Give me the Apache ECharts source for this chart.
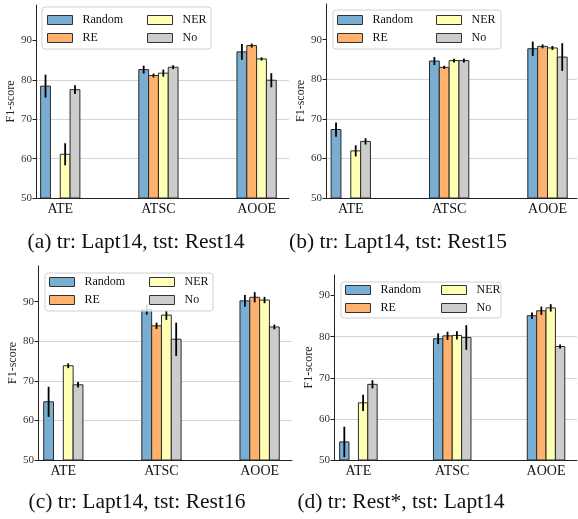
<!DOCTYPE html>
<html>
<head>
<meta charset="utf-8">
<script src="https://cdn.jsdelivr.net/npm/echarts@6/dist/echarts.min.js"></script>
<style>
  html, body { margin: 0; padding: 0; background: #fff; }
  #chart { width: 578px; height: 519px; }
</style>
</head>
<body>
<div id="chart"></div>
<script>
// tasks on the x axis, methods = bar series
const categories = ['ATE', 'ATSC', 'AOOE']
const methods = ['Random', 'RE', 'NER', 'No']
const colors = ['#79add2', '#ffb26e', '#ffffb3', '#cccccc']
const yTicks = [50, 60, 70, 80, 90]
const captions = [
  '(a) tr: Lapt14, tst: Rest14',
  '(b) tr: Lapt14, tst: Rest15',
  '(c) tr: Lapt14, tst: Rest16',
  '(d) tr: Rest*, tst: Lapt14'
]

// rows: Random, RE, NER, No ; columns: ATE, ATSC, AOOE
const meanA = [[78.4, 82.6, 87.1], [null, 81.1, 88.7], [61.1, 81.7, 85.3], [77.5, 83.2, 79.9]]
const errA  = [[2.9, 1.0, 2.0], [null, 0.5, 0.5], [2.8, 0.9, 0.4], [1.1, 0.5, 1.8]]
const meanB = [[67.3, 84.6, 87.7], [null, 83.0, 88.3], [61.9, 84.7, 87.9], [64.3, 84.7, 85.6]]
const errB  = [[1.8, 1.0, 1.8], [null, 0.4, 0.5], [1.4, 0.5, 0.5], [0.8, 0.5, 3.5]]
const meanC = [[64.7, 88.0, 90.2], [null, 83.9, 91.1], [73.8, 86.6, 90.4], [69.0, 80.5, 83.6]]
const errC  = [[3.8, 1.3, 1.5], [null, 0.8, 1.3], [0.6, 1.2, 0.8], [0.7, 4.2, 0.6]]
const meanD = [[54.4, 79.5, 85.1], [null, 80.2, 86.3], [63.9, 80.3, 87.0], [68.4, 79.8, 77.6]]
const errD  = [[3.7, 1.3, 0.8], [null, 1.0, 1.0], [2.0, 1.0, 0.9], [1.0, 3.0, 0.5]]

const FONT = 'Liberation Serif, DejaVu Serif, serif'
const BAR_W = 0.1

// layout of the four panels
const panels = [
  { mean: meanA, err: errA, grid: { left: 36, top: 5, width: 253, height: 193 }, xMin: -0.247, xMax: 2.33, yMax: 99,
    legend: { box: [42, 7, 169, 42], col1: 47, col2: 147, top: 13 }, caption: [136, 242] },
  { mean: meanB, err: errB, grid: { left: 326, top: 4, width: 251, height: 194 }, xMin: -0.252, xMax: 2.30, yMax: 99,
    legend: { box: [333, 10, 168, 39], col1: 337, col2: 436, top: 13 }, caption: [398, 242] },
  { mean: meanC, err: errC, grid: { left: 38, top: 266, width: 254, height: 194 }, xMin: -0.258, xMax: 2.33, yMax: 99,
    legend: { box: [45, 273, 168, 38], col1: 49, col2: 149, top: 275 }, caption: [137, 502] },
  { mean: meanD, err: errD, grid: { left: 334, top: 275, width: 243, height: 185 }, xMin: -0.26, xMax: 2.33, yMax: 95,
    legend: { box: [341, 282, 160, 36], col1: 345, col2: 441, top: 283 }, caption: [401, 502] }
]

function barRenderer(offset) {
  return function (params, api) {
    const x = api.value(0)
    const y = api.value(1)
    const e = api.value(2)
    if (y == null || isNaN(y)) return
    const tl = api.coord([x + offset - BAR_W / 2, y])
    const br = api.coord([x + offset + BAR_W / 2, 50])
    const cx = api.coord([x + offset, y])[0]
    const hi = api.coord([x, y + e])[1]
    const lo = api.coord([x, y - e])[1]
    return {
      type: 'group',
      children: [
        {
          type: 'rect',
          shape: { x: tl[0], y: tl[1], width: br[0] - tl[0], height: br[1] - tl[1] },
          style: { fill: api.visual('color'), stroke: '#2a2a2a', lineWidth: 1 }
        },
        {
          type: 'line',
          shape: { x1: cx, y1: hi, x2: cx, y2: lo },
          style: { stroke: '#000', lineWidth: 1.8 }
        }
      ]
    }
  }
}

const chart = echarts.init(document.getElementById('chart'))

const grids = [], xAxes = [], yAxes = [], series = [], legends = [], graphics = []
const offsets = [-0.15, -0.05, 0.05, 0.15]

panels.forEach((p, i) => {
  grids.push(p.grid)
  xAxes.push({
    type: 'value', gridIndex: i, min: p.xMin, max: p.xMax,
    axisLine: { onZero: false, lineStyle: { color: '#222', width: 1 } },
    axisTick: { show: false },
    splitLine: { show: false },
    axisLabel: {
      customValues: [0, 1, 2],
      formatter: (v) => categories[Math.round(v)],
      fontFamily: FONT, fontSize: 14, color: '#111', margin: 4
    }
  })
  yAxes.push({
    type: 'value', gridIndex: i, min: 50, max: p.yMax,
    name: 'F1-score', nameLocation: 'middle', nameGap: 16,
    nameTextStyle: { fontFamily: FONT, fontSize: 12, color: '#222' },
    axisLine: { show: true, onZero: false, lineStyle: { color: '#222', width: 1 } },
    axisTick: { show: true, length: 3.5, customValues: yTicks, lineStyle: { color: '#222' } },
    axisLabel: { customValues: yTicks, fontFamily: FONT, fontSize: 11, color: '#333', margin: 4 },
    splitLine: { show: true, showMinLine: false, showMaxLine: false, lineStyle: { color: '#d4d4d4', width: 1 } }
  })
  methods.forEach((m, k) => {
    series.push({
      name: m,
      type: 'custom',
      xAxisIndex: i,
      yAxisIndex: i,
      itemStyle: { color: colors[k] },
      renderItem: barRenderer(offsets[k]),
      encode: { x: 0, y: 1 },
      data: categories.map((c, j) => [j, p.mean[k][j], p.err[k][j]]),
      z: 2
    })
  })
  const lg = p.legend
  const legendBase = {
    orient: 'vertical', top: lg.top, padding: 0, itemWidth: 25, itemHeight: 9, itemGap: 4,
    icon: 'rect',
    itemStyle: { borderColor: '#333', borderWidth: 1 },
    textStyle: { fontFamily: FONT, fontSize: 12, color: '#111', lineHeight: 14, padding: [0, 0, 0, 5] },
    selectedMode: false, z: 5
  }
  legends.push(Object.assign({}, legendBase, { left: lg.col1, data: ['Random', 'RE'] }))
  legends.push(Object.assign({}, legendBase, { left: lg.col2, data: ['NER', 'No'] }))
  graphics.push({
    type: 'rect', z: 4,
    shape: { x: lg.box[0], y: lg.box[1], width: lg.box[2], height: lg.box[3], r: 3 },
    style: { fill: 'rgba(255,255,255,0.85)', stroke: '#d0d0d0', lineWidth: 1 }
  })
  graphics.push({
    type: 'text', z: 4,
    x: p.caption[0], y: p.caption[1],
    style: {
      text: captions[i], fontFamily: FONT, fontSize: 21.5, fill: '#111',
      textAlign: 'center', textVerticalAlign: 'middle'
    }
  })
})

chart.setOption({
  backgroundColor: '#fff',
  animation: false,
  grid: grids,
  xAxis: xAxes,
  yAxis: yAxes,
  legend: legends,
  graphic: graphics,
  series: series
})
</script>
</body>
</html>
